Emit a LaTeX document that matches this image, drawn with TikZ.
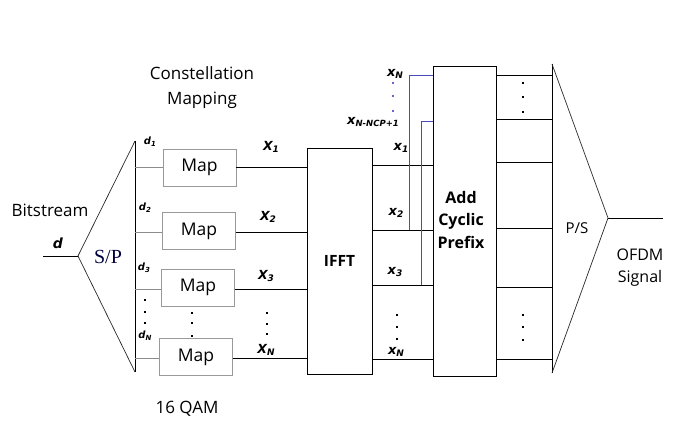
\documentclass[tikz,border=0pt]{standalone}
\usepackage{fontspec}
\setmainfont{Open Sans}
\newfontfamily\lab{DejaVu Sans}
\newfontfamily\serifsp{Liberation Serif}
\newcommand\lb[3]{#1\raisebox{-1.8pt}{\fontsize{#3}{#3}\selectfont #2}}
\begin{document}
\begin{tikzpicture}[x=1pt,y=-1pt,
  blk/.style={draw=black,line width=0.8pt},
  mapbox/.style={draw=gray!80,line width=0.8pt,minimum width=73pt,minimum height=37pt,font=\fontsize{17.5}{17.5}\selectfont,inner sep=0pt},
  wire/.style={line width=0.8pt},
  gwire/.style={draw=gray!90,line width=0.8pt},
  cpw/.style={draw=blue!60!black!70!white,line width=0.8pt},
  var/.style={font=\lab\bfseries\itshape\fontsize{12.5}{12.5}\selectfont,inner sep=0pt},
  svar/.style={font=\lab\bfseries\itshape\fontsize{10}{10}\selectfont,inner sep=0pt},
  xvar/.style={font=\lab\bfseries\itshape\fontsize{13}{13}\selectfont,inner sep=0pt},
  txt/.style={font=\fontsize{17}{25}\selectfont,align=center,inner sep=0pt},
  dotc/.style={rectangle,fill=black,inner sep=0pt,minimum size=1.8pt},
  bdot/.style={rectangle,fill=blue!70!black!60!white,inner sep=0pt,minimum size=1.8pt}]
\useasboundingbox (0,0) rectangle (676,427);
% S/P
\coordinate (spA) at (78,256);
\coordinate (spT) at (135,141);
\coordinate (spB) at (135,372);
\coordinate (din) at (43,256);
\draw[draw=gray!30!black,line width=0.7pt] (spT) -- (spA) -- (spB);
\draw[wire] (spT) -- (spB);
\draw[wire] (din) -- (spA);
\node[font=\serifsp\fontsize{20}{20}\selectfont,text=black!75!blue,inner sep=0pt] (sp) at (108,257) {S/P};
% Map boxes
\node[mapbox] (m1) at (199.5,167.5) {Map};
\node[mapbox] (m2) at (199,231) {Map};
\node[mapbox] (m3) at (198,287.5) {Map};
\node[mapbox] (m4) at (196,357) {Map};
\coordinate (s1) at (135,167);
\coordinate (s2) at (135,232);
\coordinate (s3) at (135,289);
\coordinate (s4) at (135,358);
\draw[gwire] (s1) -- (m1.west|-s1);
\draw[gwire] (s2) -- (m2.west|-s2);
\draw[gwire] (s3) -- (m3.west|-s3);
\draw[gwire] (s4) -- (m4.west|-s4);
% IFFT
\node[blk,minimum width=65pt,minimum height=226pt,inner sep=0pt,font=\bfseries\fontsize{15.5}{15.5}\selectfont] (ifft) at (339.5,261) {IFFT};
\draw[wire] (m1.east|-s1) -- (ifft.west|-s1);
\draw[wire] (m2.east|-s2) -- (ifft.west|-s2);
\draw[wire] (m3.east|-s3) -- (ifft.west|-s3);
\draw[wire] (m4.east|-s4) -- (ifft.west|-s4);
% CP
\node[blk,minimum width=63pt,minimum height=310pt,inner sep=0pt] (cp) at (464.5,221) {};
\node[font=\bfseries\fontsize{16}{22.5}\selectfont,align=center,inner sep=0pt] (cpt) at (461,220) {Add\\Cyclic\\Prefix};
\coordinate (t1) at (372,165);
\coordinate (t2) at (372,230);
\coordinate (t3) at (372,285);
\coordinate (t4) at (372,359);
\draw[wire] (t1) -- (cp.west|-t1);
\draw[wire] (t2) -- (cp.west|-t2);
\draw[wire] (t3) -- (cp.west|-t3);
\draw[wire] (t4) -- (cp.west|-t4);
% cyclic prefix wires
\coordinate (cA) at (409,75);
\coordinate (cB) at (421,121);
\coordinate (cA2) at (409,230);
\coordinate (cB2) at (421,285);
\draw[cpw] (cA2) -- (cA) -- (cp.west|-cA);
\draw[cpw] (cB2) -- (cB) -- (cp.west|-cB);
% P/S
\coordinate (psT) at (552,64);
\coordinate (psB) at (552,373);
\coordinate (psA) at (608,218);
\coordinate (dout) at (663,218);
\draw[wire] (psT) -- (psB);
\draw[draw=gray!30!black,line width=0.7pt] (psT) -- (psA) -- (psB);
\draw[wire] (psA) -- (dout);
\foreach \y/\n in {75/o1,119/o2,162/o3,228/o4,287/o5,359/o6}{
  \coordinate (\n) at (552,\y);
  \draw[wire] (cp.east|-\n) -- (\n);
}
\node[font=\fontsize{15}{15}\selectfont,inner sep=0pt] (ps) at (577,228) {P/S};
\node[font=\fontsize{16}{22}\selectfont,align=center,inner sep=0pt] (ofdm) at (640,268) {OFDM\\Signal};
% labels
\node[txt] (bits) at (50,210) {Bitstream};
\node[var,font=\lab\bfseries\itshape\fontsize{14}{14}\selectfont] (d) at (58,243) {d};
\node[txt] (cm) at (202,88) {Constellation\\Mapping};
\node[txt] (qam) at (187,409) {16 QAM};
\node[svar] (d1) at (150,142) {\lb{d}{1}{7}};
\node[svar] (d2) at (145,208) {\lb{d}{2}{7}};
\node[svar] (d3) at (144,268) {\lb{d}{3}{7}};
\node[svar] (dn) at (145,336) {\lb{d}{N}{7}};
\node[var] (X1) at (271,147) {\lb{X}{1}{9}};
\node[var] (X2) at (268,217) {\lb{X}{2}{9}};
\node[var] (X3) at (266,276) {\lb{X}{3}{9}};
\node[var] (XN) at (266,350) {\lb{X}{N}{9}};
\node[xvar] (xN0) at (395,74) {\lb{x}{N}{9}};
\node[xvar] (xcp) at (373,122) {\lb{x}{N-NCP+1}{8.5}};
\node[xvar] (x1) at (401,148) {\lb{x}{1}{9}};
\node[xvar] (x2) at (396,213) {\lb{x}{2}{9}};
\node[xvar] (x3) at (395,272) {\lb{x}{3}{9}};
\node[xvar] (xN) at (396,352) {\lb{x}{N}{9}};
% dots
\foreach \y in {300,312,323} \node[dotc] at (145,\y) {};
\foreach \y in {313,323,336} \node[dotc] at (192,\y) {};
\foreach \y in {313,324,334} \node[dotc] at (267,\y) {};
\foreach \y in {315,327,339} \node[dotc] at (397,\y) {};
\foreach \y in {83,96,111} \node[bdot] at (393,\y) {};
\foreach \y in {83,97,112} \node[dotc] at (523,\y) {};
\foreach \y in {315,327,340} \node[dotc] at (523,\y) {};
\end{tikzpicture}
\end{document}
